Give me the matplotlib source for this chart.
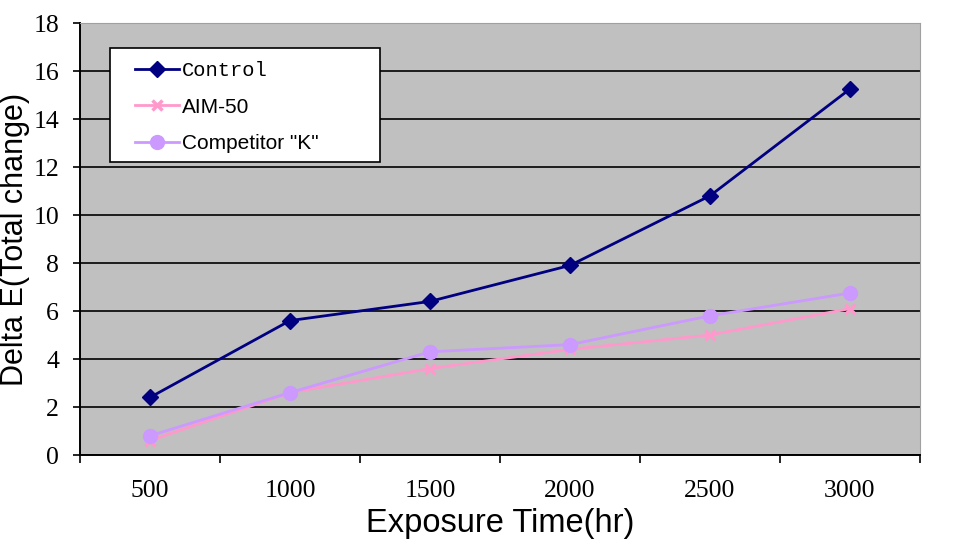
import matplotlib.pyplot as plt
import numpy as np
from matplotlib.patches import Rectangle

# datos
categories = ["500", "1000", "1500", "2000", "2500", "3000"]
control = [2.4, 5.6, 6.4, 7.9, 10.8, 15.25]
aim50 = [0.6, 2.6, 3.6, 4.4, 5.0, 6.1]
competitor = [0.8, 2.6, 4.3, 4.6, 5.8, 6.75]

x = np.arange(len(categories))

fig = plt.figure(figsize=(9.76, 5.46), dpi=100)
ax = fig.add_axes([80 / 976, 1 - 455 / 546, 840 / 976, 432 / 546])
ax.set_facecolor("#C0C0C0")

ax.plot(x, control, color="#000080", lw=2, marker="D", ms=8, label="Control", zorder=3)
ax.plot(x, aim50, color="#FF99CC", lw=2, marker="x", ms=7, mew=2.5, label="AIM-50", zorder=3)
ax.plot(x, competitor, color="#CC99FF", lw=2, marker="o", ms=10, label='Competitor "K"', zorder=3)

ax.set_xlim(-0.5, len(categories) - 0.5)
ax.set_ylim(0, 18)
ax.set_yticks(np.arange(0, 19, 2))
ax.yaxis.grid(True, color="black", lw=1.2)
ax.set_axisbelow(True)

# marcas entre categorias, etiquetas en el centro
ax.set_xticks(np.arange(-0.5, len(categories), 1.0))
ax.set_xticklabels([])
ax.set_xticks(x, minor=True)
ax.set_xticklabels(categories, minor=True)
ax.tick_params(axis="x", which="minor", length=0, pad=18)
ax.tick_params(axis="x", which="major", length=6, width=1.2, direction="out")
ax.tick_params(axis="y", length=5, width=1.2, pad=10)

for lab in ax.get_xticklabels(minor=True) + ax.get_yticklabels():
    lab.set_fontfamily("Liberation Serif")
    lab.set_fontsize(18.5)

for s in ["left", "bottom"]:
    ax.spines[s].set_color("black")
    ax.spines[s].set_linewidth(1.4)
for s in ["top", "right"]:
    ax.spines[s].set_color("#A0A0A0")

ax.set_xlabel("Exposure Time(hr)", fontsize=23.5, family="Liberation Sans", labelpad=4)
ax.set_ylabel("Delta E(Total change)", fontsize=22, family="Liberation Sans")
ax.yaxis.set_label_coords(-65 / 840, 0.5)
ax.yaxis.label.set_va("center")

# caja de la leyenda (como en Excel, mas ancha que el texto)
box = Rectangle((30 / 840, 293 / 432), 270 / 840, 114 / 432, transform=ax.transAxes,
                facecolor="white", edgecolor="black", lw=1.2, zorder=4)
ax.add_patch(box)

leg = ax.legend(loc="upper left", bbox_to_anchor=(55 / 840, 394 / 432), frameon=False,
                fontsize=15, borderpad=0, labelspacing=0.85, handlelength=2.1,
                handletextpad=0.15, borderaxespad=0)
leg.set_zorder(5)
texts = leg.get_texts()
texts[0].set_fontfamily("Liberation Mono")
texts[0].set_fontsize(14.8)
for t in texts[1:]:
    t.set_fontfamily("Liberation Sans")

fig.savefig("out.png", dpi=100)
